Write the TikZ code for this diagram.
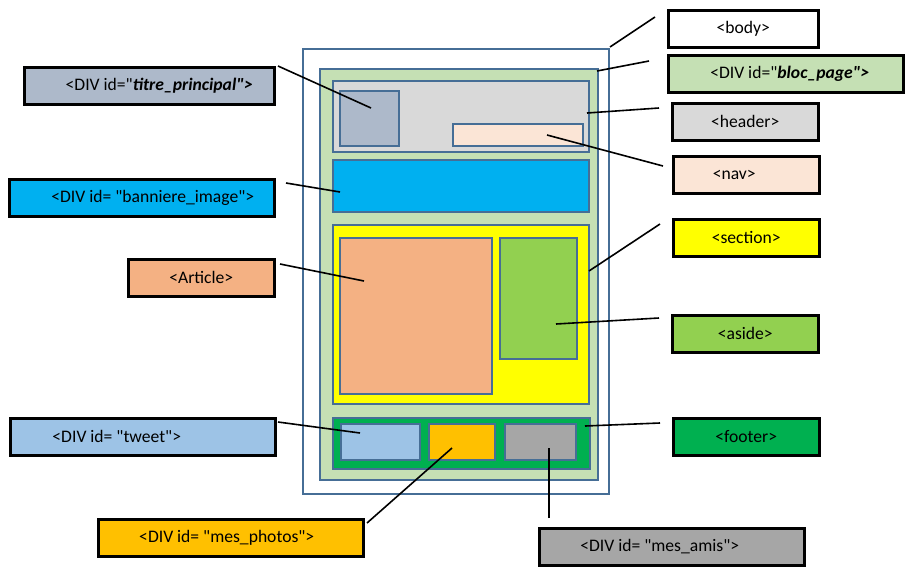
\documentclass[tikz,border=0pt]{standalone}
\usepackage{fontspec}
\setmainfont{Carlito}
\definecolor{edge}{RGB}{70,110,150}
\definecolor{cTitre}{HTML}{ADB9CA}
\definecolor{cBan}{HTML}{00B0F0}
\definecolor{cArt}{HTML}{F4B183}
\definecolor{cTweet}{HTML}{9DC3E6}
\definecolor{cPhoto}{HTML}{FFC000}
\definecolor{cAmis}{HTML}{A6A6A6}
\definecolor{cBloc}{HTML}{C5E0B4}
\definecolor{cHead}{HTML}{D9D9D9}
\definecolor{cNav}{HTML}{FBE5D6}
\definecolor{cSec}{HTML}{FFFF00}
\definecolor{cAside}{HTML}{92D050}
\definecolor{cFoot}{HTML}{00B050}
\newcommand{\dq}{\textquotedbl}

\begin{document}
\begin{tikzpicture}[x=1pt, y=-1pt,
  every node/.style={shape=rectangle, inner sep=0pt, font=\fontsize{17.6}{20}\selectfont},
  blk/.style={draw=edge, line width=2pt, anchor=north west},
  lbl/.style={draw=black, line width=2.5pt, anchor=north west, minimum height=37},
  wire/.style={draw=black, line width=1.6pt}]
\useasboundingbox (0,0) rectangle (909,576);

% the page
\node[blk, fill=white, minimum width=306, minimum height=445] (bodybox) at (302,48) {};
\node[blk, fill=cBloc, minimum width=278, minimum height=411] (blocbox) at (319,68) {};
\node[blk, fill=cHead, minimum width=256, minimum height=71] (headbox) at (332,80) {};
\node[blk, fill=cTitre, minimum width=59, minimum height=55] (titrebox) at (339,90) {};
\node[blk, fill=cNav, minimum width=130, minimum height=22] (navbox) at (452,123) {};
\node[blk, fill=cBan, minimum width=256, minimum height=52] (banbox) at (332,159) {};
\node[blk, fill=cSec, minimum width=256, minimum height=179] (secbox) at (332,224) {};
\node[blk, fill=cArt, minimum width=152, minimum height=156] (artbox) at (339,237) {};
\node[blk, fill=cAside, minimum width=77, minimum height=121] (asidebox) at (499,237) {};
\node[blk, fill=cFoot, minimum width=257, minimum height=51] (footbox) at (332,417) {};
\node[blk, fill=cTweet, minimum width=79, minimum height=36] (tweetbox) at (340,423) {};
\node[blk, fill=cPhoto, minimum width=66, minimum height=36] (photobox) at (428,423) {};
\node[blk, fill=cAmis, minimum width=71, minimum height=36] (amisbox) at (504,423) {};

% labels
\node[lbl, fill=cTitre, minimum width=250] (titre) at (23,66) {\hspace*{20pt}<DIV id=\dq\textbf{\textit{titre\_principal\dq>}}};
\node[lbl, fill=cBan, minimum width=265] (ban) at (8,178) {\hspace*{22pt}<DIV id= \dq banniere\_image\dq>};
\node[lbl, fill=cArt, minimum width=146] (art) at (127,258) {<Article>};
\node[lbl, fill=cTweet, minimum width=265] (tweet) at (9,417) {<DIV id= \dq tweet\dq>\hspace*{52pt}};
\node[lbl, fill=cPhoto, minimum width=265] (photo) at (97,518) {<DIV id= \dq mes\_photos\dq>\hspace*{8pt}};
\node[lbl, fill=cAmis, minimum width=265] (amis) at (538,527) {<DIV id= \dq mes\_amis\dq>\hspace*{24pt}};
\node[lbl, fill=white, minimum width=150] (body) at (667,9) {<body>};
\node[lbl, fill=cBloc, minimum width=235] (bloc) at (667,54) {\hspace*{8pt}<DIV id=\dq\textbf{\textit{bloc\_page\dq>}}};
\node[lbl, fill=cHead, minimum width=146] (head) at (671,102) {<header>};
\node[lbl, fill=cNav, minimum width=146] (nav) at (672,155) {<nav>\hspace*{24pt}};
\node[lbl, fill=cSec, minimum width=146] (sec) at (672,218) {<section>};
\node[lbl, fill=cAside, minimum width=146] (aside) at (671,314) {<aside>};
\node[lbl, fill=cFoot, minimum width=146] (foot) at (672,417) {<footer>};

% connector ends
\coordinate (body-a) at (655,17);   \coordinate (body-b) at (610,47);
\coordinate (bloc-a) at (649,61);   \coordinate (bloc-b) at (597,71);
\coordinate (head-a) at (659,108);  \coordinate (head-b) at (587,113);
\coordinate (nav-a) at (663,166);   \coordinate (nav-b) at (547,135);
\coordinate (titre-a) at (278,66);  \coordinate (titre-b) at (371,108);
\coordinate (ban-a) at (286,183);   \coordinate (ban-b) at (340,192);
\coordinate (art-a) at (280,264);   \coordinate (art-b) at (364,281);
\coordinate (sec-a) at (660,224);   \coordinate (sec-b) at (589,271);
\coordinate (aside-a) at (659,318); \coordinate (aside-b) at (556,324);
\coordinate (foot-a) at (660,423);  \coordinate (foot-b) at (585,426);
\coordinate (tweet-a) at (278,422); \coordinate (tweet-b) at (360,433);
\coordinate (photo-a) at (367,523); \coordinate (photo-b) at (452,448);
\coordinate (amis-a) at (549,518);  \coordinate (amis-b) at (549,448);

\draw[wire] (body-a) -- (body-b);
\draw[wire] (bloc-a) -- (bloc-b);
\draw[wire] (head-a) -- (head-b);
\draw[wire] (nav-a) -- (nav-b);
\draw[wire] (titre-a) -- (titre-b);
\draw[wire] (ban-a) -- (ban-b);
\draw[wire] (art-a) -- (art-b);
\draw[wire] (sec-a) -- (sec-b);
\draw[wire] (aside-a) -- (aside-b);
\draw[wire] (foot-a) -- (foot-b);
\draw[wire] (tweet-a) -- (tweet-b);
\draw[wire] (photo-a) -- (photo-b);
\draw[wire] (amis-a) -- (amis-b);
\end{tikzpicture}
\end{document}
